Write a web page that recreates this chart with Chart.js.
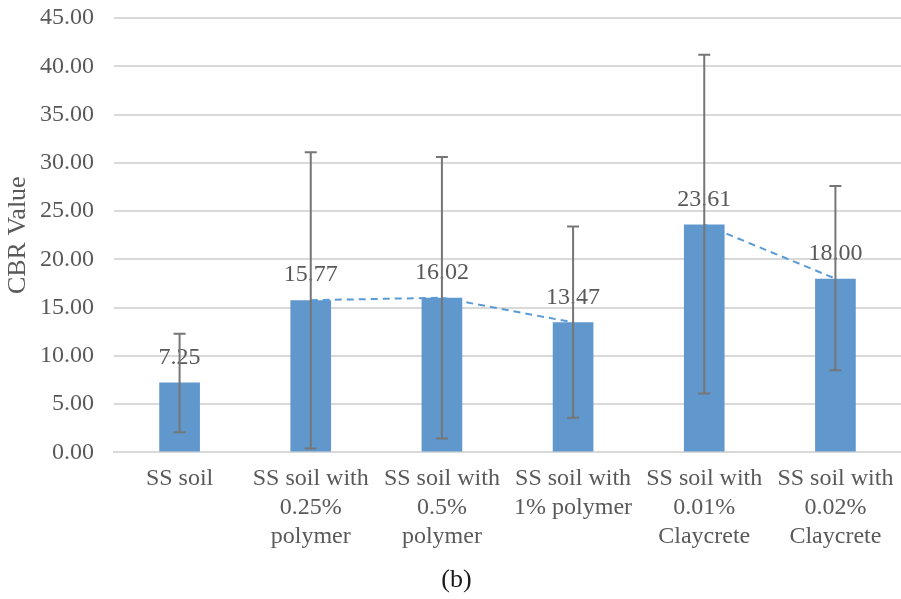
<!DOCTYPE html>
<html>
<head>
<meta charset="utf-8">
<script src="https://cdn.jsdelivr.net/npm/chart.js@4"></script>
<style>
  html, body { margin: 0; padding: 0; background: #fff; }
  #wrap { width: 901px; height: 599px; }
</style>
</head>
<body>
<div id="wrap"><canvas id="cbrChart"></canvas></div>
<script>
// Data
const categories = [
  'SS soil',
  ['SS soil with', '0.25%', 'polymer'],
  ['SS soil with', '0.5%', 'polymer'],
  ['SS soil with', '1% polymer'],
  ['SS soil with', '0.01%', 'Claycrete'],
  ['SS soil with', '0.02%', 'Claycrete']
];
const cbrValues = [7.25, 15.77, 16.02, 13.47, 23.61, 18.00];
const errLow = [2.1, 0.4, 1.45, 3.6, 6.1, 8.5];
const errHigh = [12.3, 31.1, 30.6, 23.4, 41.2, 27.6];
const polymerTrend = [null, 15.77, 16.02, 13.47, null, null];
const claycreteTrend = [null, null, null, null, 23.61, 18.00];
const yTicks = [0, 5, 10, 15, 20, 25, 30, 35, 40, 45];

Chart.defaults.font.family = '"Liberation Serif", "Times New Roman", serif';
Chart.defaults.color = '#595959';

// error bars + value labels, drawn on the bar dataset
const errorBars = {
  id: 'errorBars',
  afterDatasetsDraw(chart) {
    const ctx = chart.ctx;
    const meta = chart.getDatasetMeta(2);
    const y = chart.scales.y;
    ctx.save();
    ctx.fillStyle = '#595959';
    ctx.font = '24px "Liberation Serif", serif';
    ctx.textAlign = 'center';
    ctx.textBaseline = 'middle';
    meta.data.forEach((bar, i) => {
      ctx.fillText(cbrValues[i].toFixed(2), bar.x, bar.y - 25);
    });
    ctx.strokeStyle = '#767676';
    ctx.lineWidth = 2;
    meta.data.forEach((bar, i) => {
      const top = y.getPixelForValue(errHigh[i]);
      const bot = y.getPixelForValue(errLow[i]);
      ctx.beginPath();
      ctx.moveTo(bar.x, top);
      ctx.lineTo(bar.x, bot);
      ctx.moveTo(bar.x - 6, top);
      ctx.lineTo(bar.x + 6, top);
      ctx.moveTo(bar.x - 6, bot);
      ctx.lineTo(bar.x + 6, bot);
      ctx.stroke();
    });
    ctx.restore();
  }
};

new Chart(document.getElementById('cbrChart'), {
  data: {
    labels: categories,
    datasets: [
      {
        type: 'line',
        data: polymerTrend,
        borderColor: '#5b9bd5',
        borderWidth: 2,
        borderDash: [7, 5],
        pointRadius: 0,
        fill: false,
        order: 0
      },
      {
        type: 'line',
        data: claycreteTrend,
        borderColor: '#5b9bd5',
        borderWidth: 2,
        borderDash: [7, 5],
        pointRadius: 0,
        fill: false,
        order: 0
      },
      {
        type: 'bar',
        data: cbrValues,
        backgroundColor: '#6097cc',
        barPercentage: 0.31,
        categoryPercentage: 1,
        order: 1
      }
    ]
  },
  options: {
    responsive: true,
    maintainAspectRatio: false,
    animation: false,
    layout: { padding: { top: 4, right: -6, left: 6, bottom: 0 } },
    plugins: {
      legend: { display: false },
      tooltip: { enabled: false },
      title: {
        display: true,
        position: 'bottom',
        text: '(b)',
        color: '#1a1a1a',
        font: { size: 26, weight: 'normal', lineHeight: 1.2 },
        padding: { top: 10, bottom: 3 }
      }
    },
    scales: {
      x: {
        grid: { display: false },
        border: { color: '#d9d9d9', width: 2 },
        ticks: {
          font: { size: 24, lineHeight: 1.2 },
          color: '#595959',
          maxRotation: 0,
          autoSkip: false,
          padding: 4
        }
      },
      y: {
        min: 0,
        max: 45,
        afterBuildTicks(axis) {
          axis.ticks = yTicks.map(v => ({ value: v }));
        },
        afterFit(axis) {
          axis.width = 108;
          axis.paddingTop = 18;
        },
        grid: { color: '#d9d9d9', lineWidth: 2, drawTicks: false },
        border: { display: false },
        ticks: {
          font: { size: 24 },
          color: '#595959',
          padding: 20,
          callback: v => v.toFixed(2)
        },
        title: {
          display: true,
          text: 'CBR Value',
          color: '#595959',
          font: { size: 26, lineHeight: 0.9 },
          padding: { top: 0, bottom: 0 }
        }
      }
    }
  },
  plugins: [errorBars]
});
</script>
</body>
</html>
